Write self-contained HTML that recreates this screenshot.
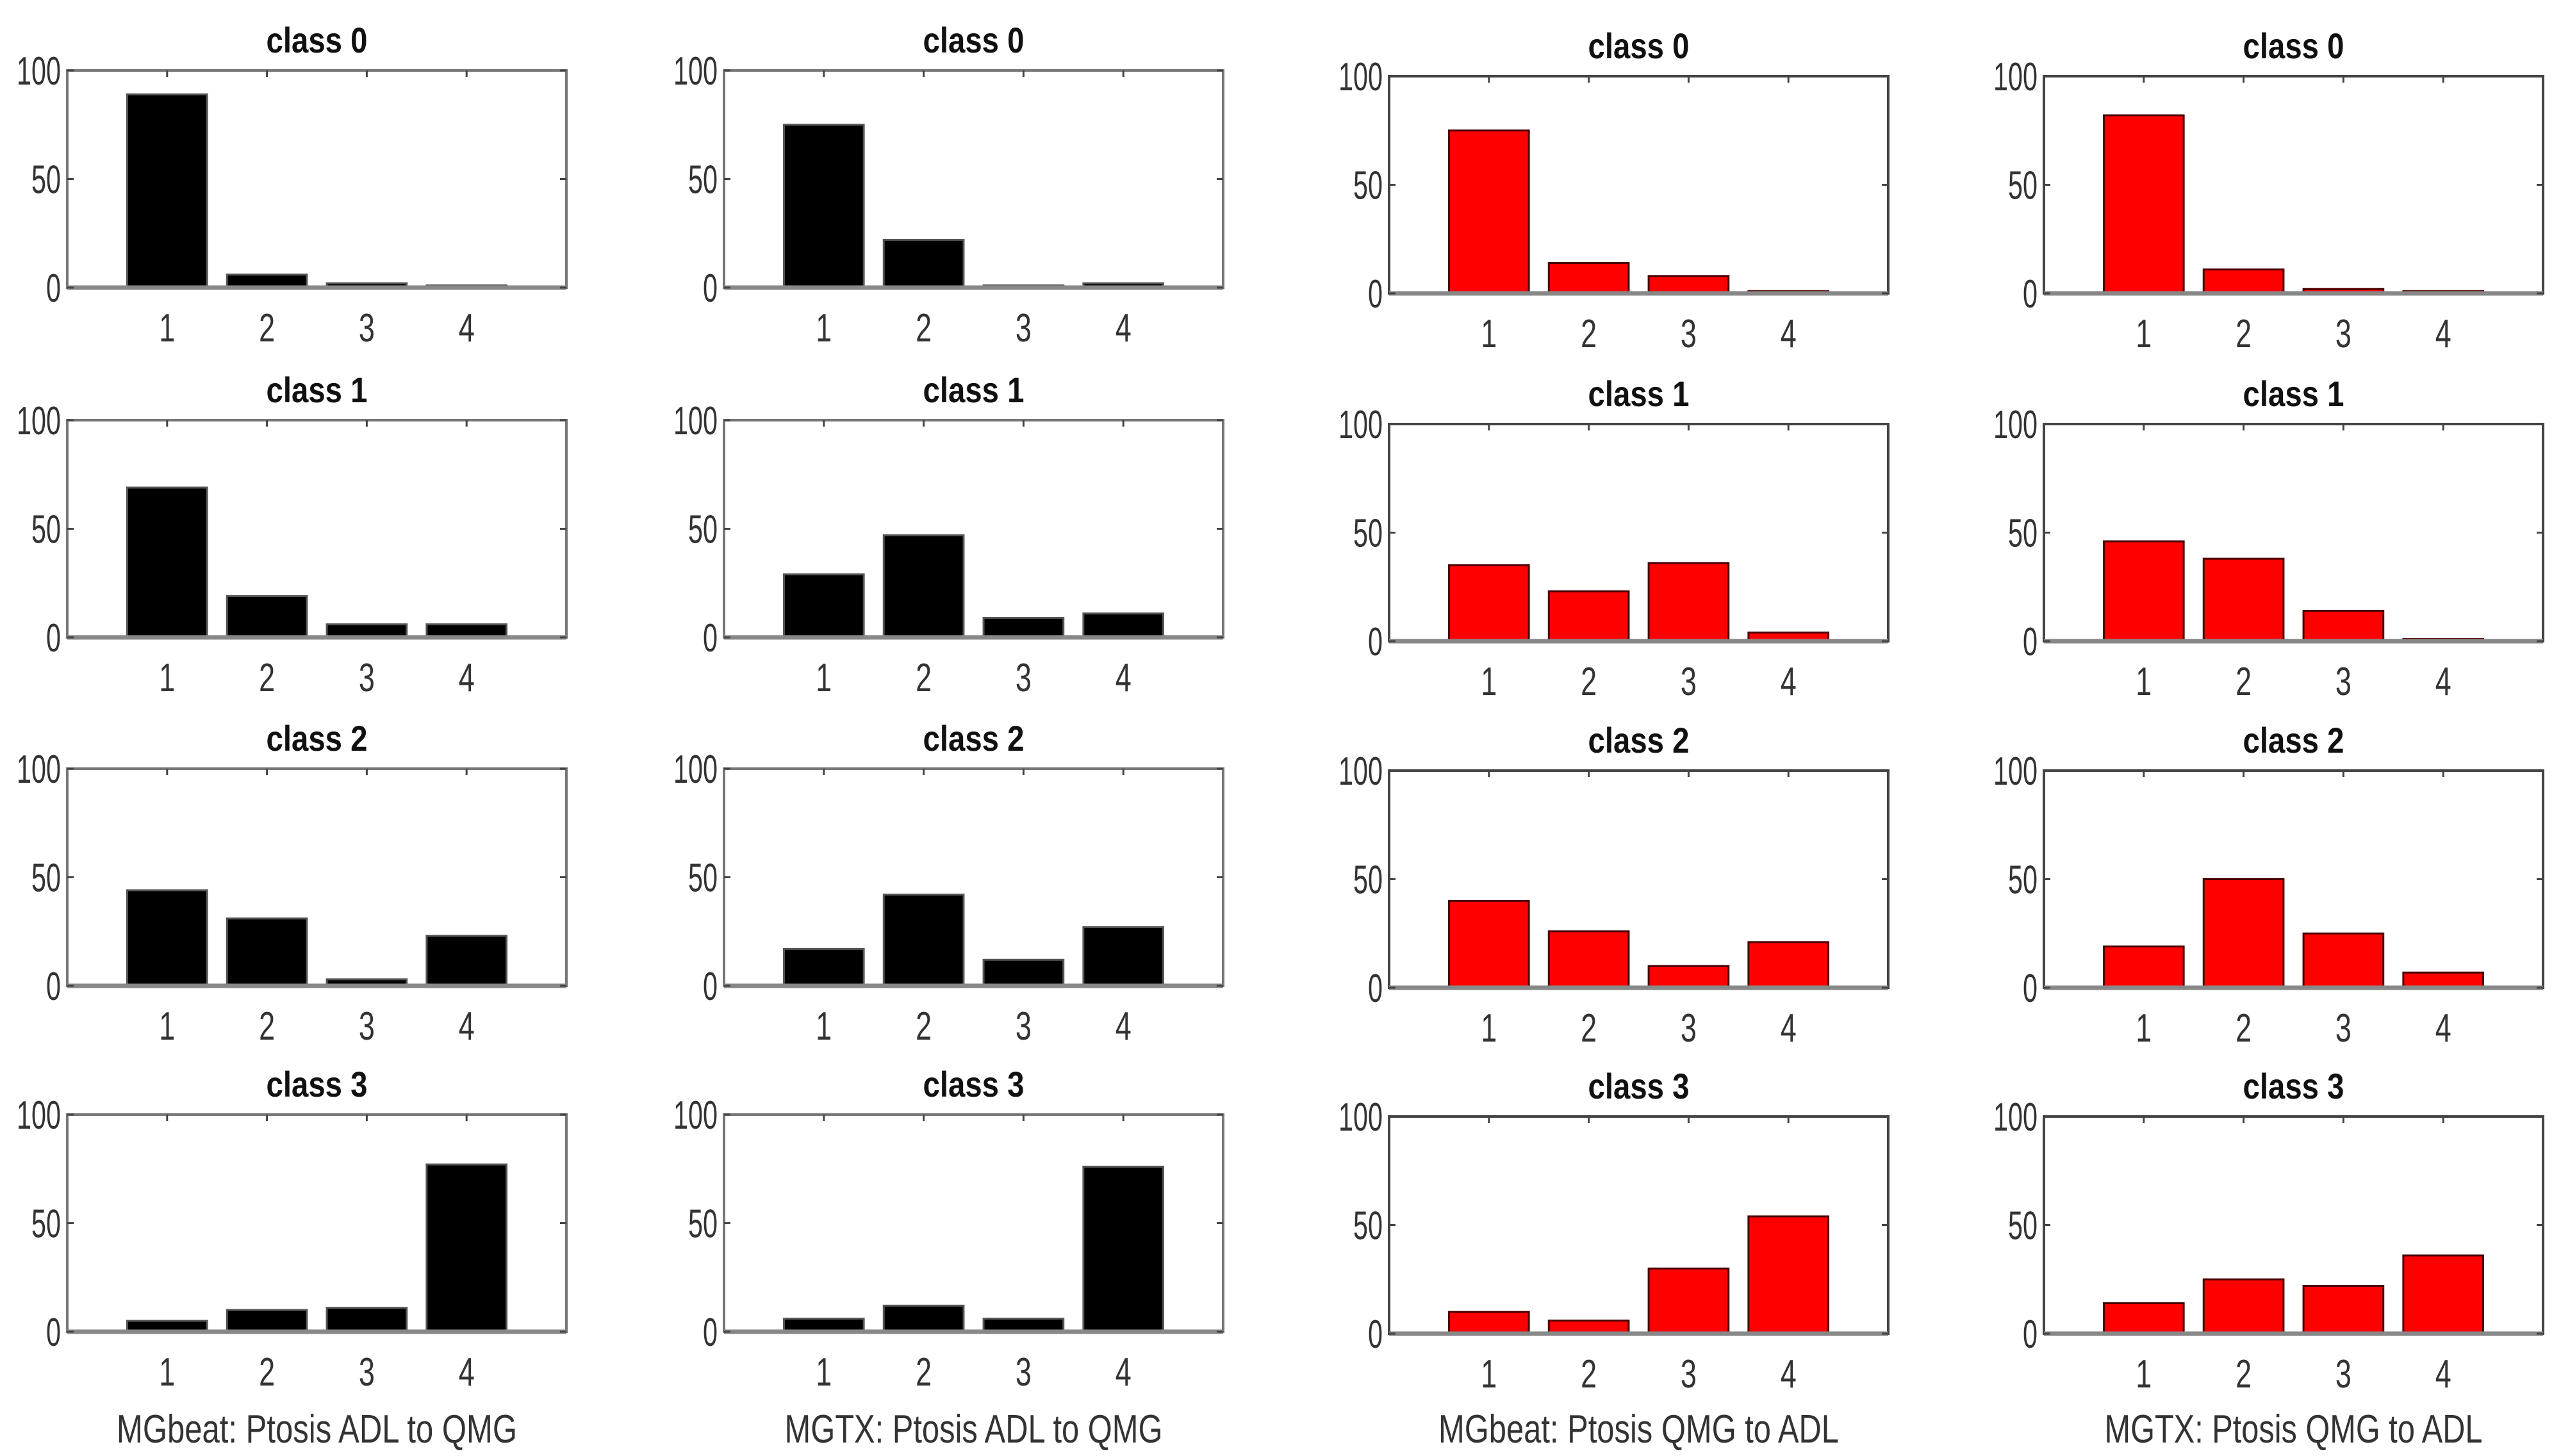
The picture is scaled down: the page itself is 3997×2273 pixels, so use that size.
<!DOCTYPE html>
<html><head><meta charset="utf-8"><style>
html,body{margin:0;padding:0;background:#fff;}
svg{display:block;}
text{font-family:"Liberation Sans",sans-serif;}
</style></head><body>
<svg id="chart" width="3997" height="2273" viewBox="0 0 3997 2273" xmlns="http://www.w3.org/2000/svg"></svg>
<script>
const categories = [1, 2, 3, 4];
const classTitles = ["class 0", "class 1", "class 2", "class 3"];
const yTicks = [0, 50, 100];
const panelLabels = ["MGbeat: Ptosis ADL to QMG", "MGTX: Ptosis ADL to QMG", "MGbeat: Ptosis QMG to ADL", "MGTX: Ptosis QMG to ADL"];
const mgbeatAdlToQmg = [[89, 6, 2, 1], [69, 19, 6, 6], [44, 31, 3, 23], [5, 10, 11, 77]];
const mgtxAdlToQmg = [[75, 22, 1, 2], [29, 47, 9, 11], [17, 42, 12, 27], [6, 12, 6, 76]];
const mgbeatQmgToAdl = [[75, 14, 8, 1], [35, 23, 36, 4], [40, 26, 10, 21], [10, 6, 30, 54]];
const mgtxQmgToAdl = [[82, 11, 2, 1], [46, 38, 14, 1], [19, 50, 25, 7], [14, 25, 22, 36]];
const allSeries = [mgbeatAdlToQmg, mgtxAdlToQmg, mgbeatQmgToAdl, mgtxQmgToAdl];

const NS = "http://www.w3.org/2000/svg";
const svg = document.getElementById("chart");
const colLeft = [105, 1130, 2168, 3190];
const colWidth = 779;
const rowTopsA = [110, 656, 1200, 1740];
const rowTopsB = [119, 662, 1203, 1743];
const plotH = 339;

function mk(tag, attrs, parent) {
  const e = document.createElementNS(NS, tag);
  for (const k in attrs) e.setAttribute(k, attrs[k]);
  (parent || svg).appendChild(e);
  return e;
}

for (let c = 0; c < 4; c++) {
  const red = c >= 2;
  const L = colLeft[c], W = colWidth;
  const tops = red ? rowTopsB : rowTopsA;
  const xs = v => L + (v / 5) * W;
  for (let r = 0; r < 4; r++) {
    const T = tops[r], B = T + plotH;
    const ys = v => B - (v / 100) * plotH;
    const g = mk("g", {});
    
    
    const t = mk("text", {x: L + W / 2, y: T - 28, "text-anchor": "middle", "font-size": 56, "font-weight": "bold", fill: "#111", textLength: 158, lengthAdjust: "spacingAndGlyphs"}, g);
    t.textContent = classTitles[r];
    
    
    const vals = allSeries[c][r];
    categories.forEach((cat, i) => {
      const v = vals[i];
      const bx = xs(cat - 0.4), bw = xs(cat + 0.4) - bx;
      const b = mk("rect", {x: bx, y: ys(v), width: bw, height: Math.max(ys(0) - ys(v), 0),
        fill: red ? "#ff0000" : "#000", stroke: red ? "#4a0000" : "#555", "stroke-width": 3}, g);
      
      
    });
    const box = mk("rect", {x: L, y: T, width: W, height: plotH, fill: "none", stroke: red ? "#444" : "#777", "stroke-width": 4}, g);
    
    
    mk("line", {x1: L, x2: L + W, y1: B, y2: B, stroke: "#888", "stroke-width": 7}, g);
    categories.forEach(cat => {
      mk("line", {x1: xs(cat), x2: xs(cat), y1: T, y2: T + 10, stroke: "#444", "stroke-width": 3}, g);
      const tl = mk("text", {x: xs(cat), y: B + 84, "text-anchor": "middle", "font-size": 62, fill: "#333", textLength: 25, lengthAdjust: "spacingAndGlyphs"}, g);
      tl.textContent = String(cat);
      
      
    });
    yTicks.forEach(v => {
      mk("line", {x1: L, x2: L + 10, y1: ys(v), y2: ys(v), stroke: "#444", "stroke-width": 3}, g);
      mk("line", {x1: L + W - 10, x2: L + W, y1: ys(v), y2: ys(v), stroke: "#444", "stroke-width": 3}, g);
      const s = String(v);
      const yl = mk("text", {x: L - 10, y: ys(v) + 22, "text-anchor": "end", "font-size": 62, fill: "#333", textLength: 23 * s.length, lengthAdjust: "spacingAndGlyphs"}, g);
      yl.textContent = s;
      
      
    });
  }
  const lab = mk("text", {x: L + W / 2, y: 2252, "text-anchor": "middle", "font-size": 62, fill: "#333", textLength: c % 2 === 0 ? 625 : 590, lengthAdjust: "spacingAndGlyphs"});
  lab.textContent = panelLabels[c];
  
  
}
</script>
</body></html>
